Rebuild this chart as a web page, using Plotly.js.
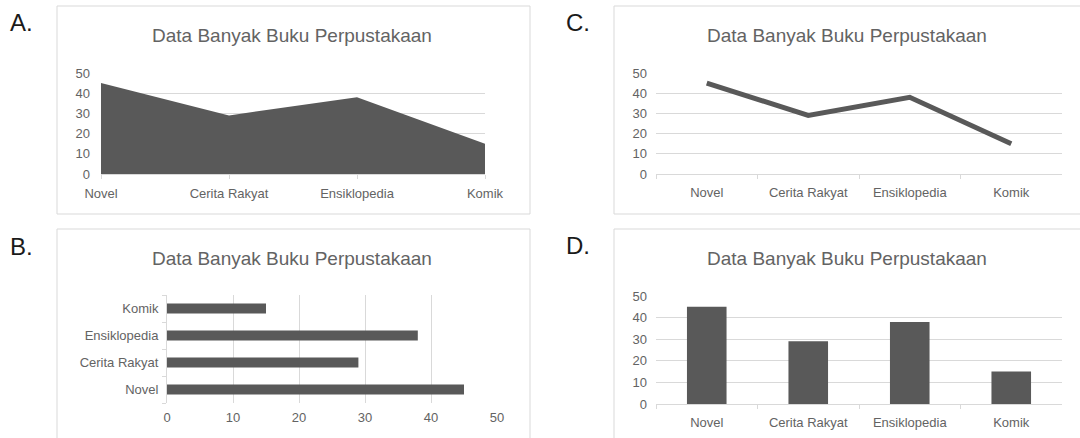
<!DOCTYPE html>
<html>
<head>
<meta charset="utf-8">
<script src="https://cdn.plot.ly/plotly-3.0.1.min.js"></script>
<style>
  html, body { margin: 0; padding: 0; background: #ffffff; }
  #chart { width: 1080px; height: 438px; }
</style>
</head>
<body>
<div id="chart"></div>
<script>
// ---- data ----
const categories = ['Novel', 'Cerita Rakyat', 'Ensiklopedia', 'Komik'];
const values = [45, 29, 38, 15];
const valueTicks = [0, 10, 20, 30, 40, 50];
const chartTitle = 'Data Banyak Buku Perpustakaan';
const panelLabels = ['A.', 'B.', 'C.', 'D.'];

// ---- helpers (pixel -> paper) ----
const W = 1080, H = 438;
const px = v => v / W;
const py = v => 1 - v / H;

const FONT = 'Liberation Sans, Arial, Helvetica, sans-serif';
const DARK = '#595959';
const TEXT = '#636363';
const GRID = '#d9d9d9';
const tickFont = { family: FONT, size: 13, color: TEXT };

const traces = [
  { // A: area
    type: 'scatter', mode: 'lines', x: categories, y: values,
    fill: 'tozeroy', fillcolor: DARK, line: { width: 0, color: DARK },
    xaxis: 'x', yaxis: 'y', hoverinfo: 'skip'
  },
  { // C: line
    type: 'scatter', mode: 'lines', x: categories, y: values,
    line: { width: 5, color: DARK },
    xaxis: 'x2', yaxis: 'y2', hoverinfo: 'skip'
  },
  { // B: horizontal bar
    type: 'bar', orientation: 'h', x: values, y: categories,
    width: 0.37, marker: { color: DARK },
    xaxis: 'x3', yaxis: 'y3', hoverinfo: 'skip'
  },
  { // D: column
    type: 'bar', x: categories, y: values,
    width: 0.39, marker: { color: DARK },
    xaxis: 'x4', yaxis: 'y4', hoverinfo: 'skip'
  }
];

const valAxisY = (domain, anchor, standoff) => ({
  domain: domain, anchor: anchor, range: [0, 50], tickvals: valueTicks,
  showgrid: true, gridcolor: GRID, gridwidth: 1, zeroline: false, showline: false,
  ticks: '', tickfont: tickFont, ticklabelstandoff: standoff, fixedrange: true
});

const catAxisX = (domain, anchor, range, boundaries, standoff) => ({
  domain: domain, anchor: anchor, type: 'category', range: range,
  showgrid: false, zeroline: false, showline: true, linecolor: GRID, linewidth: 1,
  ticks: 'outside', ticklen: 4, tickcolor: GRID, tickwidth: 1,
  tickson: boundaries ? 'boundaries' : 'labels',
  tickfont: tickFont, ticklabelstandoff: standoff, fixedrange: true
});

const layout = {
  width: W, height: H,
  margin: { l: 0, r: 0, t: 0, b: 0, pad: 0 },
  paper_bgcolor: '#ffffff', plot_bgcolor: 'rgba(0,0,0,0)',
  showlegend: false,
  font: { family: FONT, color: TEXT },
  // A
  xaxis: catAxisX([px(101), px(485)], 'y', [0, 3], false, 3),
  yaxis: valAxisY([py(174), py(73)], 'x', 10),
  // C
  xaxis2: catAxisX([px(656), px(1062)], 'y2', [-0.5, 3.5], true, 6),
  yaxis2: valAxisY([py(174), py(73)], 'x2', 8),
  // B
  xaxis3: {
    domain: [px(167), px(497)], anchor: 'y3', range: [0, 50], tickvals: valueTicks,
    showgrid: true, gridcolor: GRID, zeroline: false, showline: false, ticks: '',
    tickfont: tickFont, ticklabelstandoff: 5, fixedrange: true
  },
  yaxis3: {
    domain: [py(403), py(295)], anchor: 'x3', type: 'category', range: [-0.5, 3.5],
    showgrid: false, zeroline: false, showline: true, linecolor: GRID,
    ticks: 'outside', ticklen: 4, tickcolor: GRID, tickson: 'boundaries',
    tickfont: tickFont, ticklabelstandoff: 5, fixedrange: true
  },
  // D
  xaxis4: catAxisX([px(656), px(1062)], 'y4', [-0.5, 3.5], true, 6),
  yaxis4: valAxisY([py(404), py(296)], 'x4', 8),
  shapes: [
    [57, 6, 530, 214], [57, 229, 530, 445],
    [614, 6, 1085, 214], [614, 229, 1085, 445]
  ].map(b => ({
    type: 'rect', xref: 'paper', yref: 'paper',
    x0: px(b[0]), x1: px(b[2]), y0: py(b[3]), y1: py(b[1]),
    line: { color: GRID, width: 1 }, fillcolor: 'rgba(0,0,0,0)', layer: 'below'
  })),
  annotations: [
    ...[[291.5, 35], [291.5, 258], [847, 35], [847, 258]].map(p => ({
      xref: 'paper', yref: 'paper', x: px(p[0]), y: py(p[1]),
      xanchor: 'center', yanchor: 'middle', showarrow: false,
      text: chartTitle, font: { family: FONT, size: 19, color: TEXT }
    })),
    ...[[8, 22], [8, 246], [564, 22], [564, 245]].map((p, i) => ({
      xref: 'paper', yref: 'paper', x: px(p[0]), y: py(p[1]),
      xanchor: 'left', yanchor: 'middle', showarrow: false,
      text: panelLabels[i], font: { family: FONT, size: 24, color: '#1a1a1a' }
    }))
  ]
};

Plotly.newPlot('chart', traces, layout, { staticPlot: true, displayModeBar: false });
</script>
</body>
</html>
